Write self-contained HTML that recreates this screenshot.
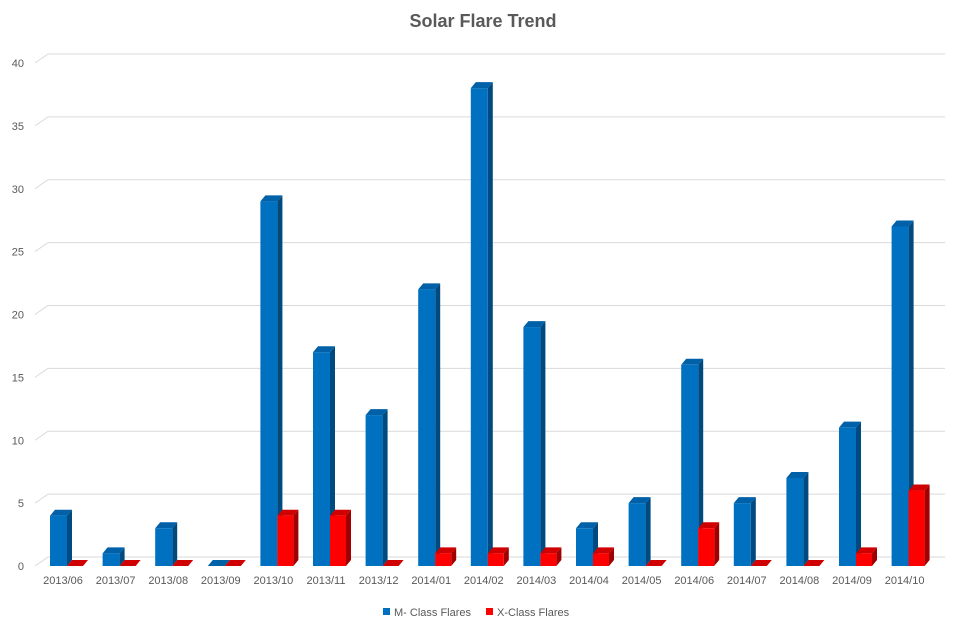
<!DOCTYPE html>
<html><head><meta charset="utf-8"><style>
body{margin:0;background:#fff;font-family:"Liberation Sans",sans-serif}
</style></head><body>
<svg id="chart" width="966" height="631" xmlns="http://www.w3.org/2000/svg">
<text x="483" y="27" text-anchor="middle" font-size="18" font-weight="bold" fill="#595959" font-family="Liberation Sans, sans-serif">Solar Flare Trend</text>
<g id="grid"></g><g id="bars"></g><g id="labels"></g>
<g font-size="11" fill="#595959">
<rect x="383" y="608" width="7" height="7" fill="#0070c0"/>
<text x="394" y="616">M- Class Flares</text>
<rect x="486" y="608" width="7" height="7" fill="#ff0000"/>
<text x="497" y="616">X-Class Flares</text>
</g>
</svg>
<script>
const categories=["2013/06","2013/07","2013/08","2013/09","2013/10","2013/11","2013/12","2014/01","2014/02","2014/03","2014/04","2014/05","2014/06","2014/07","2014/08","2014/09","2014/10"];
const mClass=[4,1,3,0,29,17,12,22,38,19,3,5,16,5,7,11,27];
const xClass=[0,0,0,0,4,4,0,1,1,1,1,0,3,0,0,1,6];
const yTicks=[0,5,10,15,20,25,30,35,40];
const NS="http://www.w3.org/2000/svg";
const y0=566,y40=63,dx=5,dy=-6;
const yS=v=>y0-(y0-y40)*v/40;
const xC=i=>61+i*52.6;
function mk(t,a,p){const e=document.createElementNS(NS,t);for(const k in a)e.setAttribute(k,a[k]);p.appendChild(e);return e;}
const grid=document.getElementById('grid'),bars=document.getElementById('bars'),labels=document.getElementById('labels');
yTicks.forEach(v=>{const y=yS(v);
const g=mk('polyline',{points:`${35},${y} ${48},${y-9} ${945},${y-9}`,fill:'none',stroke:'#d9d9d9','stroke-width':1},grid);


const t=mk('text',{x:24,y:y+4,'text-anchor':'end','font-size':11,fill:'#595959'},labels);t.textContent=v;


});
function bar(x,w,v,front,side,top,name){
const yt=yS(v),g=mk('g',{},bars);


mk('polygon',{points:`${x+w},${yt} ${x+w+dx},${yt+dy} ${x+w+dx},${y0+dy} ${x+w},${y0}`,fill:side},g);
mk('polygon',{points:`${x},${yt} ${x+dx},${yt+dy} ${x+w+dx},${yt+dy} ${x+w},${yt}`,fill:top},g);
if(v>0)mk('rect',{x:x,y:yt,width:w,height:y0-yt,fill:front},g);
}
categories.forEach((c,i)=>{const cx=xC(i);
bar(cx-11,17,mClass[i],'#0070c0','#004a80','#0060a8','bar-m-class');
bar(cx+6,16,xClass[i],'#ff0000','#a00000','#d00000','bar-x-class');
const t=mk('text',{x:cx+2,y:584,'text-anchor':'middle','font-size':11,fill:'#595959'},labels);t.textContent=c;


});
</script>
</body></html>
